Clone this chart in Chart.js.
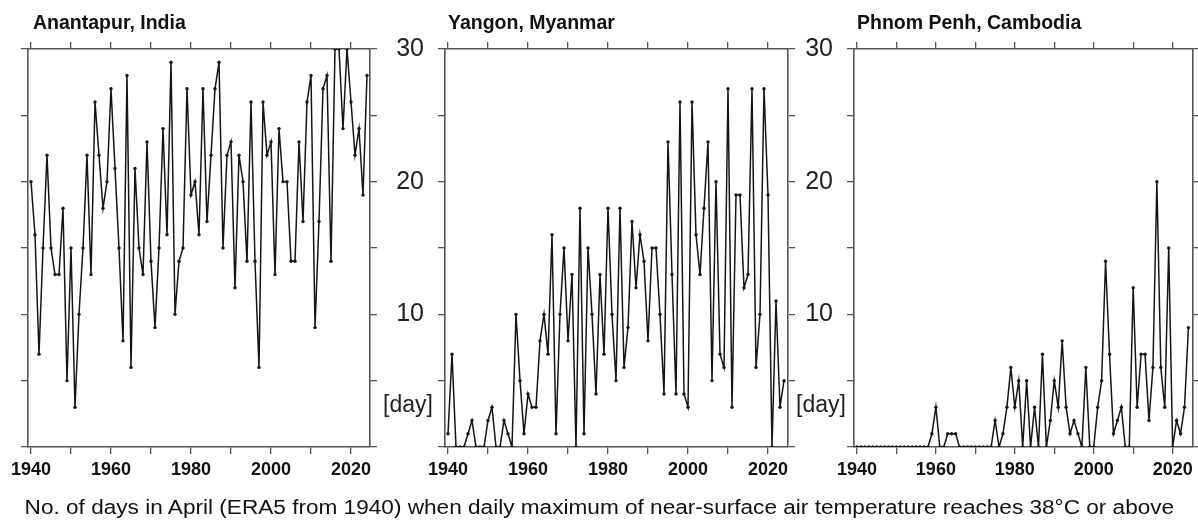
<!DOCTYPE html>
<html>
<head>
<meta charset="utf-8">
<script src="https://cdn.jsdelivr.net/npm/chart.js@4.4.1/dist/chart.umd.min.js"></script>
<style>
  body { margin: 0; background: #fff; }
  #wrap { position: relative; width: 1198px; height: 523px; overflow: hidden; font-family: "Liberation Sans", Arial, sans-serif; color: #111; }
  canvas { position: absolute; left: 0; top: 0; }
  .title { position: absolute; font-weight: bold; font-size: 19.5px; line-height: 1; white-space: nowrap; }
  .unit { position: absolute; font-size: 23px; line-height: 1; color: #222; }
  #caption { position: absolute; left: 0; width: 1198px; text-align: center; font-size: 20px; line-height: 1; top: 497px; color: #111; white-space: nowrap; transform: scaleX(1.13); transform-origin: 596px 0; }
</style>
</head>
<body>
<div id="wrap">
  <canvas id="c1" width="1198" height="523"></canvas>
  <canvas id="c2" width="1198" height="523"></canvas>
  <canvas id="c3" width="1198" height="523"></canvas>
  <div class="title" style="left:33px; top:13px;">Anantapur, India</div>
  <div class="title" style="left:448px; top:13px;">Yangon, Myanmar</div>
  <div class="title" style="left:857px; top:13px;">Phnom Penh, Cambodia</div>
  <div class="unit" style="left:383px; top:393px;">[day]</div>
  <div class="unit" style="left:796px; top:393px;">[day]</div>
  <div id="caption">No. of days in April (ERA5 from 1940) when daily maximum of near-surface air temperature reaches 38°C or above</div>
</div>
<script>
// Years 1940 - 2024
const firstYear = 1940;
const lastYear = 2024;
const years = [];
for (let y = firstYear; y <= lastYear; y++) years.push(y);

// Days per April reaching 38°C
const anantapur = [
    20, 16, 7, 15, 22, 15, 13, 13, 18, 5,
    15, 3, 10, 15, 22, 13, 26, 22, 18, 20,
    27, 21, 15, 8, 28, 6, 21, 15, 13, 23,
    14, 9, 15, 24, 16, 29, 10, 14, 15, 27,
    19, 20, 16, 27, 17, 22, 27, 29, 15, 22,
    23, 12, 22, 20, 14, 26, 14, 6, 26, 22,
    23, 13, 24, 20, 20, 14, 14, 23, 17, 26,
    28, 9, 17, 27, 28, 14, 30, 30, 24, 30,
    26, 22, 24, 19, 28
];
const yangon = [
    1, 7, 0, 0, 0, 1, 2, 0, 0, 0,
    2, 3, 0, 0, 2, 1, 0, 10, 5, 1,
    4, 3, 3, 8, 10, 7, 16, 1, 10, 15,
    8, 13, 0, 18, 1, 15, 10, 4, 13, 7,
    18, 10, 5, 18, 6, 9, 17, 12, 16, 14,
    8, 15, 15, 10, 4, 23, 13, 4, 26, 4,
    3, 26, 16, 13, 18, 23, 5, 20, 7, 6,
    27, 3, 19, 19, 12, 13, 27, 6, 10, 27,
    19, 0, 11, 3, 5
];
const phnomPenh = [
    0, 0, 0, 0, 0, 0, 0, 0, 0, 0,
    0, 0, 0, 0, 0, 0, 0, 0, 0, 1,
    3, 0, 0, 1, 1, 1, 0, 0, 0, 0,
    0, 0, 0, 0, 0, 2, 0, 1, 3, 6,
    3, 5, 0, 5, 0, 3, 0, 7, 0, 2,
    5, 3, 8, 3, 1, 2, 1, 0, 6, 0,
    0, 3, 5, 14, 7, 1, 2, 3, 0, 0,
    12, 3, 7, 7, 2, 6, 20, 6, 3, 15,
    0, 2, 1, 3, 9
];

// Tick positions
const xTicks = [1940, 1950, 1960, 1970, 1980, 1990, 2000, 2010, 2020];
const xLabelTicks = [1940, 1960, 1980, 2000, 2020];
const yTicks = [0, 5, 10, 15, 20, 25, 30];
const yLabelTicks = [10, 20, 30];

const axisColor = '#555';
const lineColor = '#151515';
const fontFamily = '"Liberation Sans", Arial, sans-serif';

function setTicks(values) {
    return function(scale) {
        scale.ticks = values.map(v => ({ value: v }));
    };
}

function fixSize(prop, size) {
    return function(scale) {
        scale[prop] = size;
    };
}

// Builds one panel; box = plot area in page pixels
function makePanel(id, values, box, showYLabels) {
    const leftW = showYLabels ? 60 : 20;
    const rightW = Math.min(10, 1198 - box.right);
    const topH = 10;
    const bottomH = 40;

    const gridCommon = {
        drawOnChartArea: false,
        drawTicks: true,
        tickLength: 7,
        color: axisColor,
        lineWidth: 1.3
    };
    const borderCommon = { display: true, color: axisColor, width: 1.6 };

    new Chart(document.getElementById(id).getContext('2d'), {
        type: 'line',
        data: {
            datasets: [{
                data: years.map((yr, i) => ({ x: yr, y: values[i] })),
                borderColor: lineColor,
                borderWidth: 1.5,
                pointRadius: 1.7,
                pointBackgroundColor: lineColor,
                pointBorderWidth: 0,
                tension: 0
            }]
        },
        options: {
            responsive: false,
            animation: false,
            events: [],
            layout: {
                padding: {
                    left: box.left - leftW,
                    top: box.top - topH,
                    right: 1198 - box.right - rightW,
                    bottom: 523 - box.bottom - bottomH
                }
            },
            scales: {
                x: {
                    type: 'linear',
                    position: 'bottom',
                    min: box.xMin,
                    max: box.xMax,
                    afterBuildTicks: setTicks(xTicks),
                    afterFit: fixSize('height', bottomH),
                    grid: gridCommon,
                    border: borderCommon,
                    ticks: {
                        autoSkip: false,
                        maxRotation: 0,
                        padding: 5,
                        color: '#111',
                        font: { family: fontFamily, size: 18, weight: 'bold' },
                        callback: v => xLabelTicks.includes(v) ? String(v) : ''
                    }
                },
                xTop: {
                    type: 'linear',
                    position: 'top',
                    min: box.xMin,
                    max: box.xMax,
                    afterBuildTicks: setTicks(xTicks),
                    afterFit: fixSize('height', topH),
                    grid: gridCommon,
                    border: borderCommon,
                    ticks: { display: false }
                },
                y: {
                    type: 'linear',
                    position: 'left',
                    min: 0,
                    max: 30,
                    afterBuildTicks: setTicks(yTicks),
                    afterFit: fixSize('width', leftW),
                    grid: gridCommon,
                    border: borderCommon,
                    ticks: {
                        display: showYLabels,
                        padding: 14,
                        color: '#222',
                        font: { family: fontFamily, size: 25 },
                        callback: v => yLabelTicks.includes(v) ? String(v) : ''
                    }
                },
                yRight: {
                    type: 'linear',
                    position: 'right',
                    min: 0,
                    max: 30,
                    afterBuildTicks: setTicks(yTicks),
                    afterFit: fixSize('width', rightW),
                    grid: gridCommon,
                    border: borderCommon,
                    ticks: { display: false }
                }
            },
            plugins: {
                legend: { display: false },
                tooltip: { enabled: false }
            }
        }
    });
}

makePanel('c1', anantapur, { left: 28, top: 49, right: 370, bottom: 447, xMin: 1939.25, xMax: 2024.75 }, false);
makePanel('c2', yangon, { left: 445, top: 49, right: 788, bottom: 447, xMin: 1939.25, xMax: 2025 }, true);
makePanel('c3', phnomPenh, { left: 854, top: 49, right: 1197, bottom: 447, xMin: 1939.25, xMax: 2025 }, true);
</script>
</body>
</html>
